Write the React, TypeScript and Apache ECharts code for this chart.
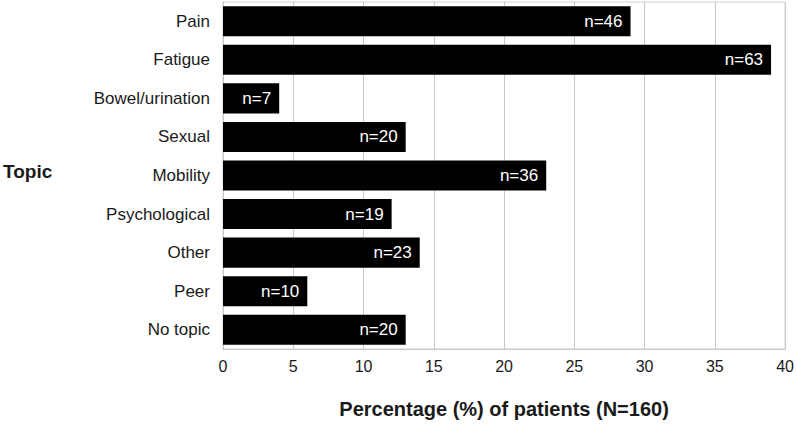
import React, { useEffect, useRef } from "react";
import * as echarts from "echarts";

const categories = ["Pain", "Fatigue", "Bowel/urination", "Sexual", "Mobility", "Psychological", "Other", "Peer", "No topic"];
const percentages = [29, 39, 4, 13, 23, 12, 14, 6, 13];
const counts = [46, 63, 7, 20, 36, 19, 23, 10, 20];
const xTicks = { min: 0, max: 40, interval: 5 };
const xTitle = "Percentage (%) of patients (N=160)";
const yTitle = "Topic";

const FONT = "'Liberation Sans', Arial, Helvetica, sans-serif";

export default function App() {
  const ref = useRef<HTMLDivElement>(null);
  useEffect(() => {
    if (!ref.current) return;
    const chart = echarts.init(ref.current, undefined, { renderer: "svg" });
    chart.setOption({
      animation: false,
      textStyle: { fontFamily: FONT },
      grid: {
        left: 223,
        right: 9,
        top: 2,
        bottom: 74,
        show: true,
        borderColor: "#d0d0d0",
        borderWidth: 1,
      },
      xAxis: {
        type: "value",
        min: xTicks.min,
        max: xTicks.max,
        interval: xTicks.interval,
        name: xTitle,
        nameLocation: "middle",
        nameGap: 50,
        nameTextStyle: { fontSize: 20, fontWeight: "bold", color: "#1a1a1a", fontFamily: FONT },
        axisLine: { show: true, lineStyle: { color: "#c8c8c8" } },
        axisTick: { show: false },
        axisLabel: { fontSize: 16, color: "#1a1a1a", margin: 9, fontFamily: FONT },
        splitLine: { show: true, lineStyle: { color: "#c8c8c8", width: 1 } },
      },
      yAxis: {
        type: "category",
        data: categories,
        inverse: true,
        axisLine: { show: true, lineStyle: { color: "#c8c8c8" } },
        axisTick: { show: false },
        axisLabel: { fontSize: 17, color: "#1a1a1a", margin: 13, fontFamily: FONT },
        splitLine: { show: false },
      },
      graphic: [
        {
          type: "text",
          left: 3,
          top: 162,
          style: { text: yTitle, fontSize: 19, fontWeight: "bold", fill: "#1a1a1a", fontFamily: FONT },
        },
      ],
      series: [
        {
          type: "bar",
          data: percentages,
          barCategoryGap: "22%",
          itemStyle: { color: "#000" },
          label: {
            show: true,
            position: "insideRight",
            distance: 8,
            color: "#fff",
            fontSize: 17,
            fontFamily: FONT,
            formatter: (p: any) => "n=" + counts[p.dataIndex],
          },
        },
      ],
    });
    return () => chart.dispose();
  }, []);
  return <div ref={ref} style={{ width: 797, height: 424, position: "absolute", left: 0, top: 0 }} />;
}
